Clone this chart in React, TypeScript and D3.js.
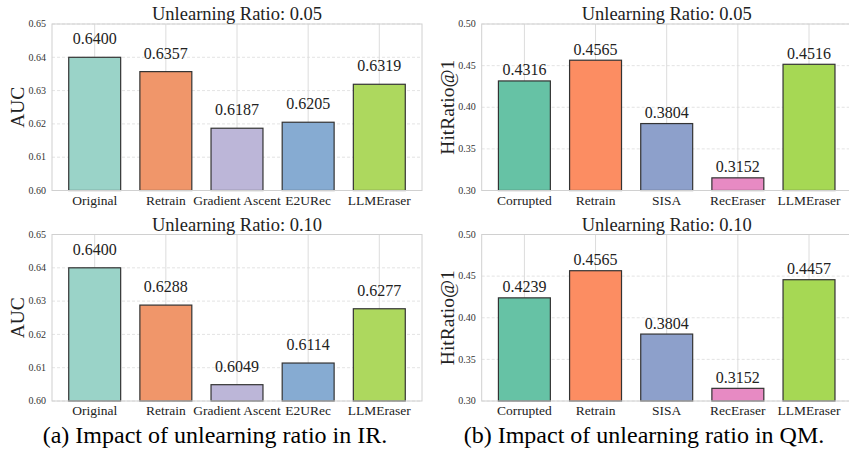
import React from 'react';
import * as d3 from 'd3';

// ---- data ----
const irMethods = ['Original', 'Retrain', 'Gradient Ascent', 'E2URec', 'LLMEraser'];
const irColors = ['#9ad3c8', '#f0966a', '#bcb6d8', '#86abd2', '#add85e'];
const irRatio005 = [0.64, 0.6357, 0.6187, 0.6205, 0.6319];
const irRatio010 = [0.64, 0.6288, 0.6049, 0.6114, 0.6277];
const irTicks = [0.6, 0.61, 0.62, 0.63, 0.64, 0.65];

const qmMethods = ['Corrupted', 'Retrain', 'SISA', 'RecEraser', 'LLMEraser'];
const qmColors = ['#66c2a5', '#fc8d62', '#8da0cb', '#e78ac3', '#a6d854'];
const qmRatio005 = [0.4316, 0.4565, 0.3804, 0.3152, 0.4516];
const qmRatio010 = [0.4239, 0.4565, 0.3804, 0.3152, 0.4457];
const qmTicks = [0.3, 0.35, 0.4, 0.45, 0.5];

const FONT = '"Liberation Serif", "DejaVu Serif", serif';
const GRID = '#dcdcdc';

interface PanelProps {
  x0: number;
  y0: number;
  width: number;
  height: number;
  title: string;
  yLabel: string;
  methods: string[];
  values: number[];
  colors: string[];
  ticks: number[];
  tickFormat: (v: number) => string;
  labelGap: number;
}

const Panel: React.FC<PanelProps> = ({
  x0, y0, width, height, title, yLabel, methods, values, colors, ticks, tickFormat, labelGap,
}) => {
  const x = d3
    .scaleBand<string>()
    .domain(methods)
    .range([0, width])
    .paddingInner(0.27)
    .paddingOuter(0.235);
  const y = d3
    .scaleLinear()
    .domain([ticks[0], ticks[ticks.length - 1]])
    .range([height, 0]);

  return (
    <g transform={`translate(${x0},${y0})`}>
      {/* horizontal grid */}
      {ticks.map((t) => (
        <line
          key={`h${t}`}
          x1={0}
          x2={width}
          y1={y(t)}
          y2={y(t)}
          stroke={GRID}
          strokeWidth={0.8}
          strokeDasharray="3,2"
        />
      ))}
      {/* vertical grid */}
      {methods.map((m) => (
        <line
          key={`v${m}`}
          x1={x(m)! + x.bandwidth() / 2}
          x2={x(m)! + x.bandwidth() / 2}
          y1={0}
          y2={height}
          stroke={GRID}
          strokeWidth={1}
        />
      ))}
      {/* bars */}
      {methods.map((m, i) => (
        <rect
          key={`b${m}`}
          x={x(m)}
          y={y(values[i])}
          width={x.bandwidth()}
          height={height - y(values[i])}
          fill={colors[i]}
          stroke="#333"
          strokeWidth={1.2}
        />
      ))}
      {/* value labels */}
      {methods.map((m, i) => (
        <text
          key={`l${m}`}
          x={x(m)! + x.bandwidth() / 2}
          y={y(values[i]) - labelGap}
          textAnchor="middle"
          fontSize={16}
          fill="#222"
        >
          {values[i].toFixed(4)}
        </text>
      ))}
      {/* frame */}
      <rect x={0} y={0} width={width} height={height} fill="none" stroke="#d0d0d0" strokeWidth={1} />
      {/* y ticks */}
      {ticks.map((t) => (
        <text key={`yt${t}`} x={-6} y={y(t)} dy="0.32em" textAnchor="end" fontSize={10} fill="#333">
          {tickFormat(t)}
        </text>
      ))}
      {/* x ticks */}
      {methods.map((m) => (
        <text key={`xt${m}`} x={x(m)! + x.bandwidth() / 2} y={height + 14} textAnchor="middle" fontSize={13.5} fill="#222">
          {m}
        </text>
      ))}
      <text x={width / 2} y={-4} textAnchor="middle" fontSize={18.5} fill="#222">
        {title}
      </text>
      <text
        transform={`translate(${-35},${height / 2}) rotate(-90)`}
        textAnchor="middle"
        dy="0.35em"
        fontSize={19.5}
        fill="#222"
      >
        {yLabel}
      </text>
    </g>
  );
};

export default function App() {
  const W = 849;
  const H = 453;
  const pw = 370;
  const ph = 166.5;
  const f2 = d3.format('.2f');
  return (
    <svg
      width={W}
      height={H}
      style={{ position: 'absolute', left: 0, top: 0, background: '#fff' }}
      fontFamily={FONT}
    >
      <rect width={W} height={H} fill="#fff" />
      <Panel x0={52} y0={24} width={pw} height={ph} title="Unlearning Ratio: 0.05" yLabel="AUC"
        methods={irMethods} values={irRatio005} colors={irColors} ticks={irTicks} tickFormat={f2} labelGap={13} />
      <Panel x0={52} y0={234.5} width={pw} height={ph} title="Unlearning Ratio: 0.10" yLabel="AUC"
        methods={irMethods} values={irRatio010} colors={irColors} ticks={irTicks} tickFormat={f2} labelGap={13} />
      <Panel x0={481.7} y0={24} width={pw} height={ph} title="Unlearning Ratio: 0.05" yLabel="HitRatio@1"
        methods={qmMethods} values={qmRatio005} colors={qmColors} ticks={qmTicks} tickFormat={f2} labelGap={5.5} />
      <Panel x0={481.7} y0={234.5} width={pw} height={ph} title="Unlearning Ratio: 0.10" yLabel="HitRatio@1"
        methods={qmMethods} values={qmRatio010} colors={qmColors} ticks={qmTicks} tickFormat={f2} labelGap={5.5} />
      <text x={215} y={443} textAnchor="middle" fontSize={24} fill="#000">
        (a) Impact of unlearning ratio in IR.
      </text>
      <text x={644} y={443} textAnchor="middle" fontSize={24} fill="#000">
        (b) Impact of unlearning ratio in QM.
      </text>
    </svg>
  );
}
